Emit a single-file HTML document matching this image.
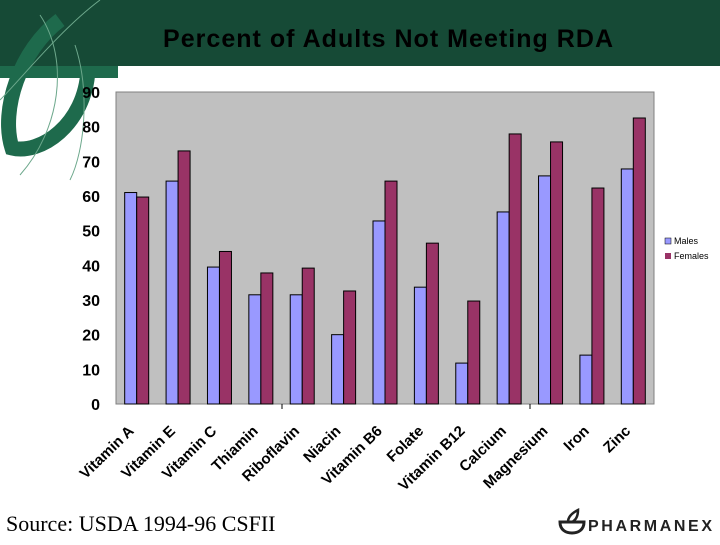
<!DOCTYPE html>
<html><head><meta charset="utf-8"><style>
body{margin:0;width:720px;height:540px;overflow:hidden;background:#fff;font-family:"Liberation Sans",sans-serif}
</style></head><body>
<svg width="720" height="540">
<rect x="0" y="0" width="720" height="66" fill="#164a36"/>
<g fill="none">
<path d="M60,20 C20,50 0,110 12,148 C40,155 85,125 88,70" stroke="#1e6a4c" stroke-width="15"/>
<path d="M0,72 L118,72" stroke="#1e6a4c" stroke-width="12"/>
<path d="M100,0 C60,30 20,80 0,100" stroke="#6da88c" stroke-width="1"/>
<path d="M40,15 C70,60 60,130 20,175" stroke="#6da88c" stroke-width="1"/>
<path d="M75,45 C90,90 85,150 70,180" stroke="#6da88c" stroke-width="1"/>
</g>
<text x="388" y="47" text-anchor="middle" font-size="25" font-weight="bold" fill="#000" textLength="450">Percent of Adults Not Meeting RDA</text>
<rect x="116" y="92" width="538" height="312" fill="#c0c0c0" stroke="#808080"/>
<g id="yaxis"></g><g id="bars"></g><g id="xlabels"></g>
<g>
<rect x="665" y="238" width="6" height="6" fill="#9999ff" stroke="#000" stroke-width="0.5"/>
<text x="674" y="244" font-size="9">Males</text>
<rect x="665" y="253" width="6" height="6" fill="#993366"/>
<text x="674" y="259" font-size="9">Females</text>
</g>
<text x="6" y="531" font-family="Liberation Serif,serif" font-size="22">Source: USDA 1994-96 CSFII</text>
<g>
<path d="M560,522 L584,522 C584,530 578,533 572,533 C566,533 560,530 560,522 Z" fill="none" stroke="#222" stroke-width="3"/>
<path d="M568,522 C568,516 574,512 578,510 C578,516 576,520 572,522" fill="none" stroke="#222" stroke-width="2.5"/>
<text x="588" y="531" font-size="16" font-weight="bold" fill="#222" textLength="124">PHARMANEX</text>
</g>
</svg>
<script>
const categories=["Vitamin A","Vitamin E","Vitamin C","Thiamin","Riboflavin","Niacin","Vitamin B6","Folate","Vitamin B12","Calcium","Magnesium","Iron","Zinc"];
const males=[61,64.3,39.5,31.5,31.5,20,52.8,33.7,11.8,55.4,65.8,14.1,67.8];
const females=[59.7,73,44,37.8,39.2,32.6,64.3,46.4,29.7,77.9,75.6,62.3,82.5];
const yTicks=[0,10,20,30,40,50,60,70,80,90];
const NS="http://www.w3.org/2000/svg";
const x0=116,x1=654,y0=404,y1=92,ymax=90;
const y=v=>y0-(v/ymax)*(y0-y1);
const bw=(x1-x0)/categories.length;
const xc=i=>x0+bw*(i+0.5);
function mk(t,a,p){const e=document.createElementNS(NS,t);for(const k in a)e.setAttribute(k,a[k]);p.appendChild(e);return e;}
const ya=document.getElementById('yaxis');
yTicks.forEach(v=>{const t=mk('text',{x:100,y:y(v)+6,'text-anchor':'end','font-size':16,'font-weight':'bold'},ya);t.textContent=v;

});
mk('line',{x1:282,x2:282,y1:404,y2:409,stroke:'#000'},ya);
mk('line',{x1:530,x2:530,y1:404,y2:409,stroke:'#000'},ya);
const bg=document.getElementById('bars');
const xl=document.getElementById('xlabels');
categories.forEach((c,i)=>{
 const m=mk('rect',{x:xc(i)-12,y:y(males[i]),width:12,height:y0-y(males[i]),fill:'#9999ff',stroke:'#000','stroke-width':1},bg);
 
 
 const f=mk('rect',{x:xc(i),y:y(females[i]),width:12,height:y0-y(females[i]),fill:'#993366',stroke:'#000','stroke-width':1},bg);
 
 
 const lx=xc(i)-2, ly=432;
 const t=mk('text',{x:lx,y:ly,'text-anchor':'end','font-size':15,'font-weight':'bold',transform:`rotate(-44 ${lx} ${ly})`},xl);
 t.textContent=c;
 
 
});
</script>
</body></html>
